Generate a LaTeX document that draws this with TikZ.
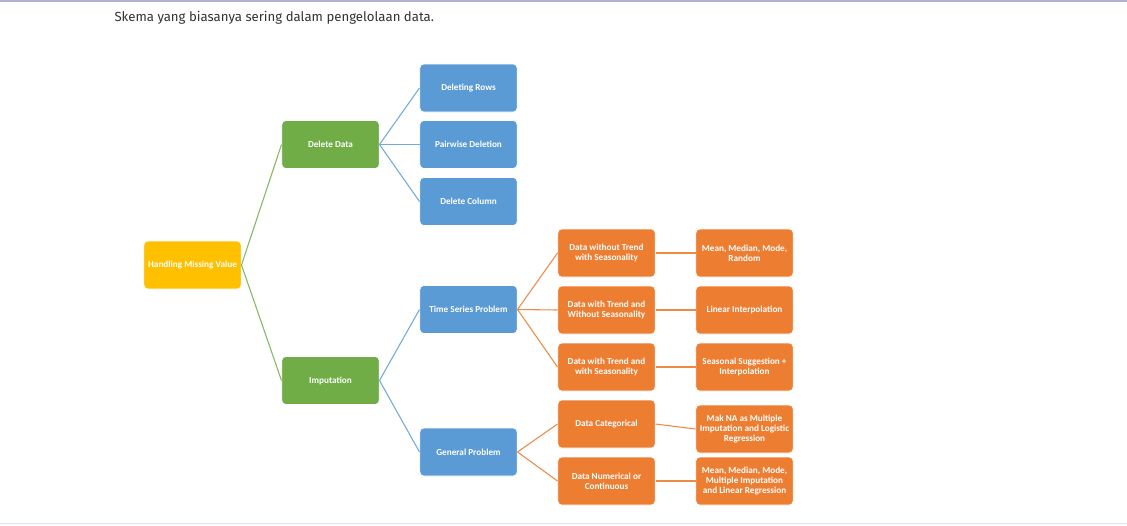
\documentclass[tikz,border=0pt]{standalone}
\usepackage{fontspec}
\setmainfont{Carlito}
\newfontfamily\headfont{Fira Sans}

\definecolor{boxyellow}{RGB}{255,192,0}
\definecolor{boxgreen}{RGB}{112,173,71}
\definecolor{boxblue}{RGB}{91,155,213}
\definecolor{boxorange}{RGB}{237,125,49}
\definecolor{topline}{RGB}{176,176,208}
\definecolor{bottomline}{RGB}{214,228,246}

\tikzset{every picture/.style={line width=0.75pt}}
\tikzset{
  treebox/.style={rounded corners=3pt, draw=white, line width=0.5pt, text=white,
    minimum width=73pt, minimum height=36pt, align=center, inner sep=1pt,
    font=\bfseries\fontsize{6.9}{7.6}\selectfont},
  rootbox/.style={treebox, fill=boxyellow},
  greenbox/.style={treebox, fill=boxgreen},
  bluebox/.style={treebox, fill=boxblue},
  orangebox/.style={treebox, fill=boxorange},
  greenlink/.style={draw=boxgreen!85, line width=0.8pt},
  bluelink/.style={draw=boxblue!85, line width=0.8pt},
  orangelink/.style={draw=boxorange!90, line width=0.8pt}
}

\begin{document}
\begin{tikzpicture}[x=0.75pt,y=0.75pt,yscale=-1,xscale=1]
%set diagram left start at 0, and has height of 525
\useasboundingbox (0,0) rectangle (1127,525);
\fill[white] (0,0) rectangle (1127,525);

%Page rules
\draw[topline, line width=1.5pt] (0,0.8) -- (1127,0.8);
\draw[bottomline, line width=1.2pt] (0,523.5) -- (1127,523.5);

% Text Node
\node[anchor=west, inner sep=0pt, text=black!80, font=\headfont\fontsize{9.9}{12}\selectfont] (title) at (114,17.5) {Skema yang biasanya sering dalam pengelolaan data.};

%Level 0
\node[rootbox] (handling) at (192.5,265) {Handling Missing Value};

%Level 1
\node[greenbox] (delete) at (330.5,144.5) {Delete Data};
\node[greenbox] (imput) at (330.5,380.5) {Imputation};

%Level 2
\node[bluebox] (rows) at (468.5,88) {Deleting Rows};
\node[bluebox] (pairwise) at (468.5,144.5) {Pairwise Deletion};
\node[bluebox] (column) at (468.5,201.5) {Delete Column};
\node[bluebox] (timeseries) at (468.5,309.5) {Time Series Problem};
\node[bluebox] (general) at (468.5,452) {General Problem};

%Level 3
\node[orangebox] (notrend) at (606.5,253) {Data without Trend\\with Seasonality};
\node[orangebox] (trendnoseas) at (606.5,310) {Data with Trend and\\Without Seasonality};
\node[orangebox] (trendseas) at (606.5,367) {Data with Trend and\\with Seasonality};
\node[orangebox] (categ) at (606.5,424) {Data Categorical};
\node[orangebox] (numer) at (606.5,481) {Data Numerical or\\Continuous};

%Level 4
\node[orangebox] (meanrand) at (744.5,253) {Mean, Median, Mode,\\Random};
\node[orangebox] (linear) at (744.5,310) {Linear Interpolation};
\node[orangebox] (seasonal) at (744.5,367) {Seasonal Suggestion +\\Interpolation};
\node[orangebox] (makna) at (744.5,429) {Mak NA as Multiple\\Imputation and Logistic\\Regression};
\node[orangebox] (meanmulti) at (744.5,481) {Mean, Median, Mode,\\Multiple Imputation\\and Linear Regression};

%Straight Lines
\draw[greenlink] (handling.east) -- (delete.west);
\draw[greenlink] (handling.east) -- (imput.west);
\foreach \child in {rows,pairwise,column}
  \draw[bluelink] (delete.east) -- (\child.west);
\foreach \child in {timeseries,general}
  \draw[bluelink] (imput.east) -- (\child.west);
\foreach \child in {notrend,trendnoseas,trendseas}
  \draw[orangelink] (timeseries.east) -- (\child.west);
\foreach \child in {categ,numer}
  \draw[orangelink] (general.east) -- (\child.west);
\draw[orangelink] (notrend.east) -- (meanrand.west);
\draw[orangelink] (trendnoseas.east) -- (linear.west);
\draw[orangelink] (trendseas.east) -- (seasonal.west);
\draw[orangelink] (categ.east) -- (makna.west);
\draw[orangelink] (numer.east) -- (meanmulti.west);

\end{tikzpicture}
\end{document}
